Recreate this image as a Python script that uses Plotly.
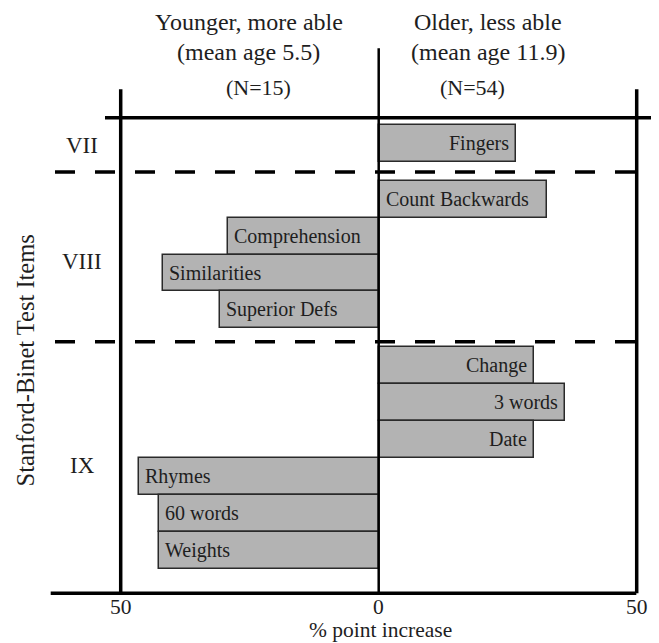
import plotly.graph_objects as go

# ---------------- data ----------------
items = ["Fingers", "Count Backwards", "Comprehension", "Similarities", "Superior Defs",
         "Change", "3 words", "Date", "Rhymes", "60 words", "Weights"]
increase = [26.7, 32.6, 29.3, 41.9, 30.8, 30.0, 36.1, 30.0, 46.4, 42.6, 42.6]
favoured = ["older", "older", "younger", "younger", "younger",
            "older", "older", "older", "younger", "younger", "younger"]
levels = ["VII", "VIII", "IX"]
tick_vals = [-50, 0, 50]
tick_text = ["50", "0", "50"]
header_left = ["Younger, more able", "(mean age 5.5)", "(N=15)"]
header_right = ["Older, less able", "(mean age 11.9)", "(N=54)"]
x_title = "% point increase"
y_title = "Stanford-Binet Test Items"

# ---------------- layout helpers ----------------
WIN_W, WIN_H = 659, 643
PAGE_MARGIN = 8  # default body margin of the html page
W, H = WIN_W - PAGE_MARGIN, WIN_H - PAGE_MARGIN
ZERO_PX, PX_PER_UNIT = 378.7, 5.16
ROW0_PX, PX_PER_ROW = 143.6, 36.97
row_pos = [0, 1.5, 2.5, 3.5, 4.5, 6, 7, 8, 9, 10, 11]
label_anchor = ["tip", "base", "tip", "tip", "tip", "tip", "tip", "tip", "tip", "tip", "tip"]


def X(px):
    return (px - ZERO_PX) / PX_PER_UNIT


def Y(py):
    return (py - ROW0_PX) / PX_PER_ROW


FONT = "Liberation Serif"
TXT = "#1e1e1e"

signed = [v if f == "older" else -v for v, f in zip(increase, favoured)]

fig = go.Figure()
fig.add_trace(go.Bar(
    x=signed, y=row_pos, orientation="h", width=1,
    marker=dict(color="#b3b3b3", line=dict(color="#2a2a2a", width=1.5)),
    hoverinfo="skip", showlegend=False,
))

ann = []
# bar labels
for name, v, yp, anc in zip(items, signed, row_pos, label_anchor):
    if anc == "tip":
        xa = "left" if v < 0 else "right"
        xs = 4 if v < 0 else -5
        xpos = v
    else:
        xa = "right" if v < 0 else "left"
        xs = -5 if v < 0 else 5
        xpos = 0
    ann.append(dict(x=xpos, y=yp, text=name, xanchor=xa, yanchor="middle", xshift=xs,
                    showarrow=False, font=dict(family=FONT, size=20, color=TXT)))

# level labels
level_y = [145.7, 261.7, 465.7]
for lv, py in zip(levels, level_y):
    ann.append(dict(x=X(82), y=Y(py), text=lv, showarrow=False,
                    font=dict(family=FONT, size=23, color=TXT)))

# tick labels
for tv, tt in zip(tick_vals, tick_text):
    ann.append(dict(x=tv, y=Y(606.5), text=tt, showarrow=False, yanchor="middle",
                    borderpad=0, font=dict(family=FONT, size=21.5, color=TXT)))

# headers
hy = [22, 52, 87]
hsize = [24, 24, 22]
hx_left = [249, 248, 258]
hx_right = [487.5, 487.5, 472]
for t, xx, yy, s in zip(header_left, hx_left, hy, hsize):
    ann.append(dict(x=X(xx), y=Y(yy), text=t, showarrow=False,
                    font=dict(family=FONT, size=s, color=TXT)))
for t, xx, yy, s in zip(header_right, hx_right, hy, hsize):
    ann.append(dict(x=X(xx), y=Y(yy), text=t, showarrow=False,
                    font=dict(family=FONT, size=s, color=TXT)))

ann.append(dict(x=X(380), y=Y(643), text=x_title, showarrow=False, yanchor="bottom",
                font=dict(family=FONT, size=21.5, color=TXT), borderpad=0))
ann.append(dict(x=X(25), y=Y(360.5), text=y_title, showarrow=False, textangle=-90,
                font=dict(family=FONT, size=24.5, color=TXT)))

# frame lines
shapes = []
solid = dict(color="#000000", width=3.5)
shapes.append(dict(type="line", x0=X(105), x1=X(653), y0=Y(117.7), y1=Y(117.7), line=solid))
shapes.append(dict(type="line", x0=X(50.7), x1=X(636.3), y0=Y(593.3), y1=Y(593.3), line=solid))
shapes.append(dict(type="line", x0=-50, x1=-50, y0=Y(89.3), y1=Y(593.3), line=solid))
shapes.append(dict(type="line", x0=50, x1=50, y0=Y(89.3), y1=Y(593.3), line=solid))
shapes.append(dict(type="line", x0=0, x1=0, y0=Y(48.3), y1=Y(593.3),
                   line=dict(color="#000000", width=2.5)))
for py in [172, 341.7]:
    shapes.append(dict(type="line", x0=X(55), x1=X(636.3), y0=Y(py), y1=Y(py),
                       line=dict(color="#000000", width=3.5, dash="20px,20px")))

fig.update_layout(
    width=W, height=H,
    margin=dict(l=0, r=0, t=0, b=0),
    paper_bgcolor="white", plot_bgcolor="white",
    xaxis=dict(range=[X(PAGE_MARGIN), X(WIN_W)], visible=False, fixedrange=True),
    yaxis=dict(range=[Y(WIN_H), Y(PAGE_MARGIN)], visible=False, fixedrange=True),
    annotations=ann, shapes=shapes, bargap=0,
)
fig.write_html("out.html", config={"displayModeBar": False})
